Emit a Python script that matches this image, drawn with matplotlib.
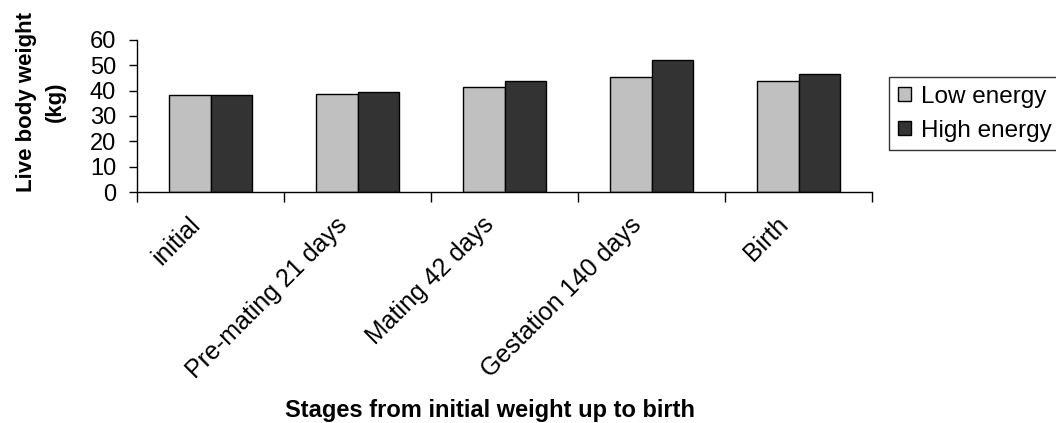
import matplotlib
matplotlib.use('Agg')
import matplotlib.pyplot as plt
from matplotlib.transforms import ScaledTranslation
import numpy as np

plt.rcParams['font.family'] = ['Liberation Sans', 'DejaVu Sans']

stages = ['initial', 'Pre-mating 21 days', 'Mating 42 days', 'Gestation 140 days', 'Birth']
low_energy = [38.3, 38.8, 41.5, 45.2, 43.9]
high_energy = [38.3, 39.6, 43.9, 52.1, 46.5]

fig = plt.figure(figsize=(10.56, 4.23), dpi=100)
ax = fig.add_axes([137/1056, 1 - 192/423, (872-137)/1056, (192-40)/423])

x = np.arange(len(stages))
w = 0.285
ax.bar(x - w/2, low_energy, w, color='#c0c0c0', edgecolor='black', linewidth=1, label='Low energy')
ax.bar(x + w/2, high_energy, w, color='#333333', edgecolor='black', linewidth=1, label='High energy')

ax.set_xlim(-0.5, len(stages) - 0.5)
ax.set_ylim(0, 60)
ax.set_yticks(range(0, 61, 10))
ax.tick_params(axis='y', labelsize=17, length=6, width=1, pad=9)
ax.set_xticks(np.arange(-0.5, len(stages), 1))
ax.set_xticklabels([])
ax.tick_params(axis='x', length=7, width=1)
ax.set_xticks(x, minor=True)
ax.set_xticklabels(stages, minor=True, rotation=45, ha='right', va='center',
                   rotation_mode='anchor', fontsize=18)
ax.tick_params(axis='x', which='minor', length=0, pad=21)
for lab in ax.get_xticklabels(minor=True):
    lab.set_transform(lab.get_transform() + ScaledTranslation(-14/100, 0, fig.dpi_scale_trans))

for s in ['top', 'right']:
    ax.spines[s].set_visible(False)
ax.spines['left'].set_linewidth(1)
ax.spines['bottom'].set_linewidth(1)

fig.text(41/1056, 1 - 102/423, 'Live body weight\n(kg)', rotation=90, ha='center', va='center',
         fontsize=16, fontweight='bold', linespacing=1.45)
fig.text(490/1056, 1 - 410/423, 'Stages from initial weight up to birth', ha='center', va='center',
         fontsize=17, fontweight='bold')

leg = fig.legend(loc='upper left', bbox_to_anchor=(889/1056, 1 - 77/423), fontsize=17.5,
                 frameon=True, fancybox=False, edgecolor='black', handlelength=0.55, handleheight=0.55,
                 handletextpad=0.4, borderpad=0.35, labelspacing=0.5, borderaxespad=0)
leg.get_frame().set_linewidth(1)

fig.savefig('out.png', dpi=100)
